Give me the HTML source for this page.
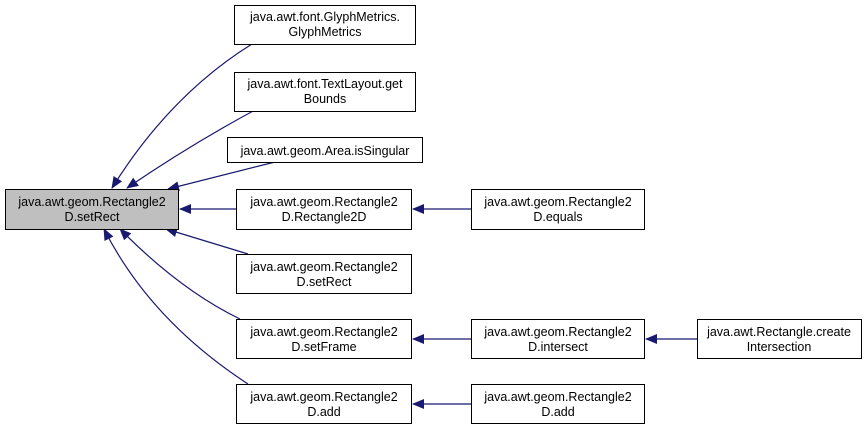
<!DOCTYPE html>
<html><head><meta charset="utf-8"><style>
body{margin:0;background:#fff;}
svg text{font-family:"Liberation Sans",Arial,sans-serif;font-size:12.5px;fill:#000;text-anchor:middle;}
</style></head><body>
<svg width="868" height="431" viewBox="0 0 868 431" xmlns="http://www.w3.org/2000/svg">
<defs><marker id="a" markerWidth="12" markerHeight="10" refX="11" refY="5" orient="auto" markerUnits="userSpaceOnUse"><path d="M0,0 L12,5 L0,10 Z" fill="#191970"/></marker></defs>
<g fill="none" stroke="#191970" stroke-width="1.2" marker-end="url(#a)">
<path d="M252,44 Q170,95 112,188"/>
<path d="M255,110 Q190,145 127,188"/>
<path d="M275,162 L168,189"/>
<path d="M236,209 L180,209"/>
<path d="M248,254 L166,229"/>
<path d="M240,319 Q180,290 120,229"/>
<path d="M248,384 Q150,320 104,229"/>
<path d="M471,209 L413,209"/>
<path d="M471,339 L413,339"/>
<path d="M697,339 L646,339"/>
<path d="M471,404 L413,404"/>
</g>
<g stroke="#000" stroke-width="1" fill="#fff">
<rect x="5.5" y="189.5" width="173" height="40" fill="#bfbfbf"/>
<rect x="234.5" y="5.5" width="181" height="39"/>
<rect x="234.5" y="72.5" width="181" height="39"/>
<rect x="227.5" y="137.5" width="195" height="25"/>
<rect x="236.5" y="189.5" width="175" height="40"/>
<rect x="236.5" y="254.5" width="175" height="39"/>
<rect x="236.5" y="319.5" width="175" height="39"/>
<rect x="236.5" y="384.5" width="175" height="39"/>
<rect x="471.5" y="189.5" width="173" height="40"/>
<rect x="471.5" y="319.5" width="173" height="39"/>
<rect x="471.5" y="384.5" width="173" height="39"/>
<rect x="697.5" y="319.5" width="164" height="39"/>
</g>
<text x="92" y="206">java.awt.geom.Rectangle2</text><text x="92" y="221">D.setRect</text>
<text x="325" y="21">java.awt.font.GlyphMetrics.</text><text x="325" y="36">GlyphMetrics</text>
<text x="325" y="88">java.awt.font.TextLayout.get</text><text x="325" y="103">Bounds</text>
<text x="325" y="155">java.awt.geom.Area.isSingular</text>
<text x="324" y="206">java.awt.geom.Rectangle2</text><text x="324" y="221">D.Rectangle2D</text>
<text x="324" y="271">java.awt.geom.Rectangle2</text><text x="324" y="286">D.setRect</text>
<text x="324" y="336">java.awt.geom.Rectangle2</text><text x="324" y="351">D.setFrame</text>
<text x="324" y="401">java.awt.geom.Rectangle2</text><text x="324" y="416">D.add</text>
<text x="558" y="206">java.awt.geom.Rectangle2</text><text x="558" y="221">D.equals</text>
<text x="558" y="336">java.awt.geom.Rectangle2</text><text x="558" y="351">D.intersect</text>
<text x="558" y="401">java.awt.geom.Rectangle2</text><text x="558" y="416">D.add</text>
<text x="779" y="336">java.awt.Rectangle.create</text><text x="779" y="351">Intersection</text>
</svg>
</body></html>
